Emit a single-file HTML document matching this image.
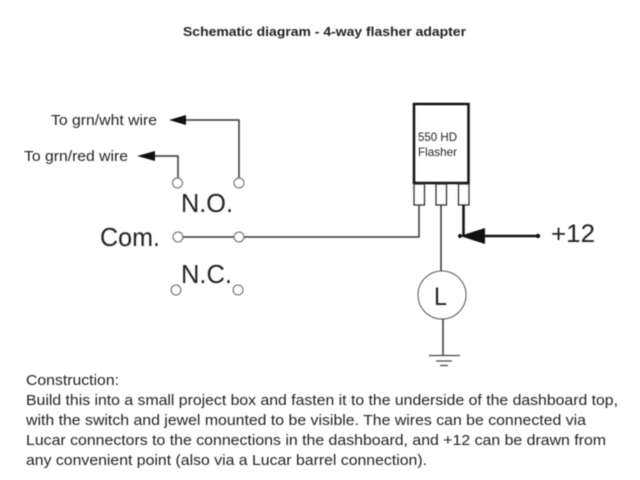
<!DOCTYPE html>
<html>
<head>
<meta charset="utf-8">
<style>
html,body{margin:0;padding:0;background:#fff;width:640px;height:480px;overflow:hidden}
svg{display:block;filter:blur(0.4px)}
text{font-family:"Liberation Sans",Arial,sans-serif;fill:#222}
</style>
</head>
<body>
<svg width="640" height="480" viewBox="0 0 640 480" xmlns="http://www.w3.org/2000/svg">
<rect width="640" height="480" fill="#fff"/>
<text x="183" y="36" font-size="12.500" font-weight="bold" textLength="283" lengthAdjust="spacingAndGlyphs">Schematic diagram - 4-way flasher adapter</text>

<text x="51" y="125" font-size="15" textLength="106" lengthAdjust="spacingAndGlyphs">To grn/wht wire</text>
<text x="24" y="161" font-size="15" textLength="104" lengthAdjust="spacingAndGlyphs">To grn/red wire</text>

<g fill="none" stroke="#333" stroke-width="1.500">
<path d="M185 120H239V178"/>
<path d="M155 156H178V178"/>
<path d="M183 237H234M244 237H419V205"/>
<path d="M441 205V271"/>
<path d="M443 319V355"/>
</g>
<polygon points="169,120 186,115 186,125" fill="#111"/>
<polygon points="137,156 155,151 155,161" fill="#111"/>

<g fill="#fff" stroke="#666" stroke-width="1">
<circle cx="177.500" cy="183" r="5"/>
<circle cx="239" cy="183" r="5"/>
<circle cx="178" cy="237" r="5"/>
<circle cx="239" cy="237" r="5"/>
<circle cx="176" cy="290" r="5"/>
<circle cx="238" cy="290" r="5"/>
</g>

<text x="181" y="212" font-size="26" fill="#111" textLength="52" lengthAdjust="spacingAndGlyphs">N.O.</text>
<text x="100" y="246" font-size="26" fill="#111" textLength="60" lengthAdjust="spacingAndGlyphs">Com.</text>
<text x="181" y="283" font-size="26" fill="#111" textLength="51" lengthAdjust="spacingAndGlyphs">N.C.</text>

<rect x="414" y="104" width="54.500" height="79" fill="#fff" stroke="#111" stroke-width="2.500"/>
<text x="418" y="141" font-size="12" textLength="39" lengthAdjust="spacingAndGlyphs">550 HD</text>
<text x="418" y="156" font-size="12" textLength="39" lengthAdjust="spacingAndGlyphs">Flasher</text>

<g fill="#fff" stroke="#333" stroke-width="1.300">
<rect x="414" y="184" width="10.500" height="21"/>
<rect x="436" y="184" width="10.500" height="21"/>
<rect x="458.500" y="184" width="10.500" height="21"/>
</g>

<path d="M463.500 205V236" stroke="#111" stroke-width="2.500" fill="none"/>
<path d="M484 236H538" stroke="#111" stroke-width="2.500" fill="none"/>
<circle cx="538" cy="236" r="2.200" fill="#111"/>
<circle cx="460" cy="236" r="2" fill="#111"/>
<polygon points="460,236 485,228 485,244" fill="#111"/>
<text x="551" y="242" font-size="25" fill="#111" textLength="44" lengthAdjust="spacingAndGlyphs">+12</text>

<circle cx="442" cy="295" r="24" fill="#fff" stroke="#555" stroke-width="1"/>
<text x="434" y="305" font-size="25" fill="#111" textLength="13" lengthAdjust="spacingAndGlyphs">L</text>

<g stroke="#444" stroke-width="1.200">
<path d="M429 355.500H460"/>
<path d="M436 361H452"/>
<path d="M440 365.500H448"/>
</g>

<g font-size="14.500">
<text x="26" y="385" textLength="93" lengthAdjust="spacingAndGlyphs">Construction:</text>
<text x="26" y="405" textLength="592" lengthAdjust="spacingAndGlyphs">Build this into a small project box and fasten it to the underside of the dashboard top,</text>
<text x="26" y="425" textLength="560" lengthAdjust="spacingAndGlyphs">with the switch and jewel mounted to be visible. The wires can be connected via</text>
<text x="26" y="445" textLength="580" lengthAdjust="spacingAndGlyphs">Lucar connectors to the connections in the dashboard, and +12 can be drawn from</text>
<text x="26" y="465" textLength="401" lengthAdjust="spacingAndGlyphs">any convenient point (also via a Lucar barrel connection).</text>
</g>
</svg>
</body>
</html>
